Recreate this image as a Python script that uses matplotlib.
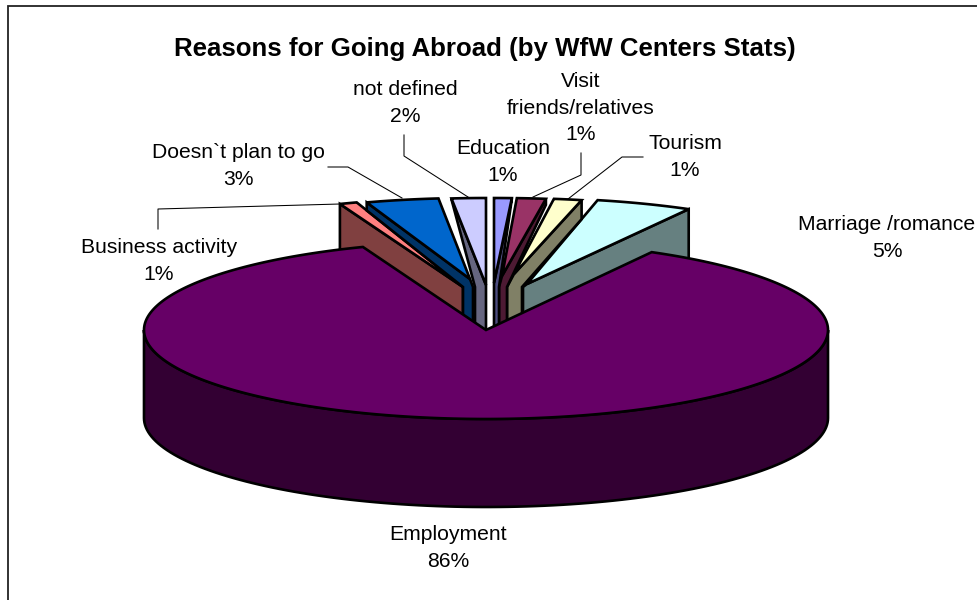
import numpy as np
import matplotlib
matplotlib.use("Agg")
import matplotlib.pyplot as plt
from matplotlib.patches import Polygon

plt.rcParams["font.family"] = ["Liberation Sans", "DejaVu Sans"]

# slices, clockwise from twelve o'clock
reasons = ["Education", "Visit\nfriends/relatives", "Tourism", "Marriage /romance",
           "Employment", "Business activity", "Doesn`t plan to go", "not defined"]
shares = [0.83, 1.36, 1.31, 4.55, 86.09, 0.83, 3.42, 1.61]

top_colors = ["#9999FF", "#993366", "#FFFFCC", "#CCFFFF", "#660066", "#FF8080", "#0066CC", "#CCCCFF"]
wall_colors = ["#4D4D80", "#4D1A33", "#808066", "#668080", "#330033", "#804040", "#003366", "#666680"]

# pie geometry in pixels
rx, ry, depth = 342, 89, 88
cx, cy = 486, 330
main = 4

# exploded tips, and the cut wall under each exploded slice
tip_x = [494, 499, 507, 523, None, 463, 473, 486]
tip_y = 287
wall_inset = [5, 8, 15, 0, None, 0, -10, -11]
wall_drop = [1, 6, 19, depth, None, depth, 8, 1]
wall_side = [1, 1, 1, 1, None, 0, 0, 0]  # which end of the arc carries the wall
# the coloured top stops a little short of the wall's tip
top_tip_dx = [0, 3, 7, 4, None, 0, -3, 0]
top_tip_dy = [-4, -11, -13, -3, None, 0, -8, -2]
draw_order = [3, 2, 1, 0, 5, 6, 7]

label_x = [503, 581, 685, 887, 448, 159, 238, 405]
label_y = [162, 108, 157, 238, 548, 261, 166, 103]

leaders = [
    [(568, 199), (622, 157), (643, 157)],
    [(533, 197), (581, 175), (581, 153)],
    [(468, 197), (404, 156), (404, 135)],
    [(402, 198), (348, 167), (328, 167)],
    [(340, 204), (158, 209), (158, 229)],
]

fig = plt.figure(figsize=(9.78, 6.0), dpi=100)
ax = fig.add_axes([0, 0, 1, 1])
ax.set_xlim(0, 978)
ax.set_ylim(600, 0)
ax.axis("off")

# chart area frame only shows on the top and left
ax.plot([978, 8, 8], [6, 6, 600], color="#222222", lw=1.3, solid_joinstyle="miter")


def arc(x0, y0, t0, t1, n=120):
    t = np.radians(np.linspace(t0, t1, n))
    return np.column_stack([x0 + rx * np.cos(t), y0 - ry * np.sin(t)])


edges = 90 - np.cumsum([0] + shares) / sum(shares) * 360
line = dict(edgecolor="black", lw=1.9, joinstyle="miter")

for path in leaders:
    xs, ys = zip(*path)
    ax.plot(xs, ys, color="black", lw=0.75)

for i in draw_order:
    pts = arc(tip_x[i], tip_y, edges[i], edges[i + 1], 30)
    corner = pts[-1] if wall_side[i] else pts[0]
    tip = np.array([tip_x[i], tip_y])
    top_tip = tip + [top_tip_dx[i], top_tip_dy[i]]
    inner = tip + [wall_inset[i], 0]
    wall = [corner, corner + [0, wall_drop[i]]]
    if wall_inset[i]:
        wall.append(inner)
    wall += [inner + [0, depth], tip + [0, depth], tip, top_tip]
    ax.add_patch(Polygon(wall, facecolor=wall_colors[i], **line))
    ax.add_patch(Polygon(np.vstack([top_tip, pts]), facecolor=top_colors[i], **line))

# the large slice sits in front of everything else
front = arc(cx, cy, 180, 360)
body = np.vstack([front, (front + [0, depth])[::-1]])
ax.add_patch(Polygon(body, facecolor=wall_colors[main], **line))
face = np.vstack([[cx, cy], arc(cx, cy, edges[main], edges[main + 1], 300)])
ax.add_patch(Polygon(face, facecolor=top_colors[main], **line))

for name, share, x, y in zip(reasons, shares, label_x, label_y):
    ax.text(x, y, f"{name}\n{share:.0f}%", ha="center", va="center", fontsize=15.2,
            linespacing=1.47, color="black", clip_on=False)

ax.text(485, 49, "Reasons for Going Abroad (by WfW Centers Stats)", ha="center", va="center",
        fontsize=18.6, fontweight="bold", color="black")

fig.savefig("out.png", dpi=100)
